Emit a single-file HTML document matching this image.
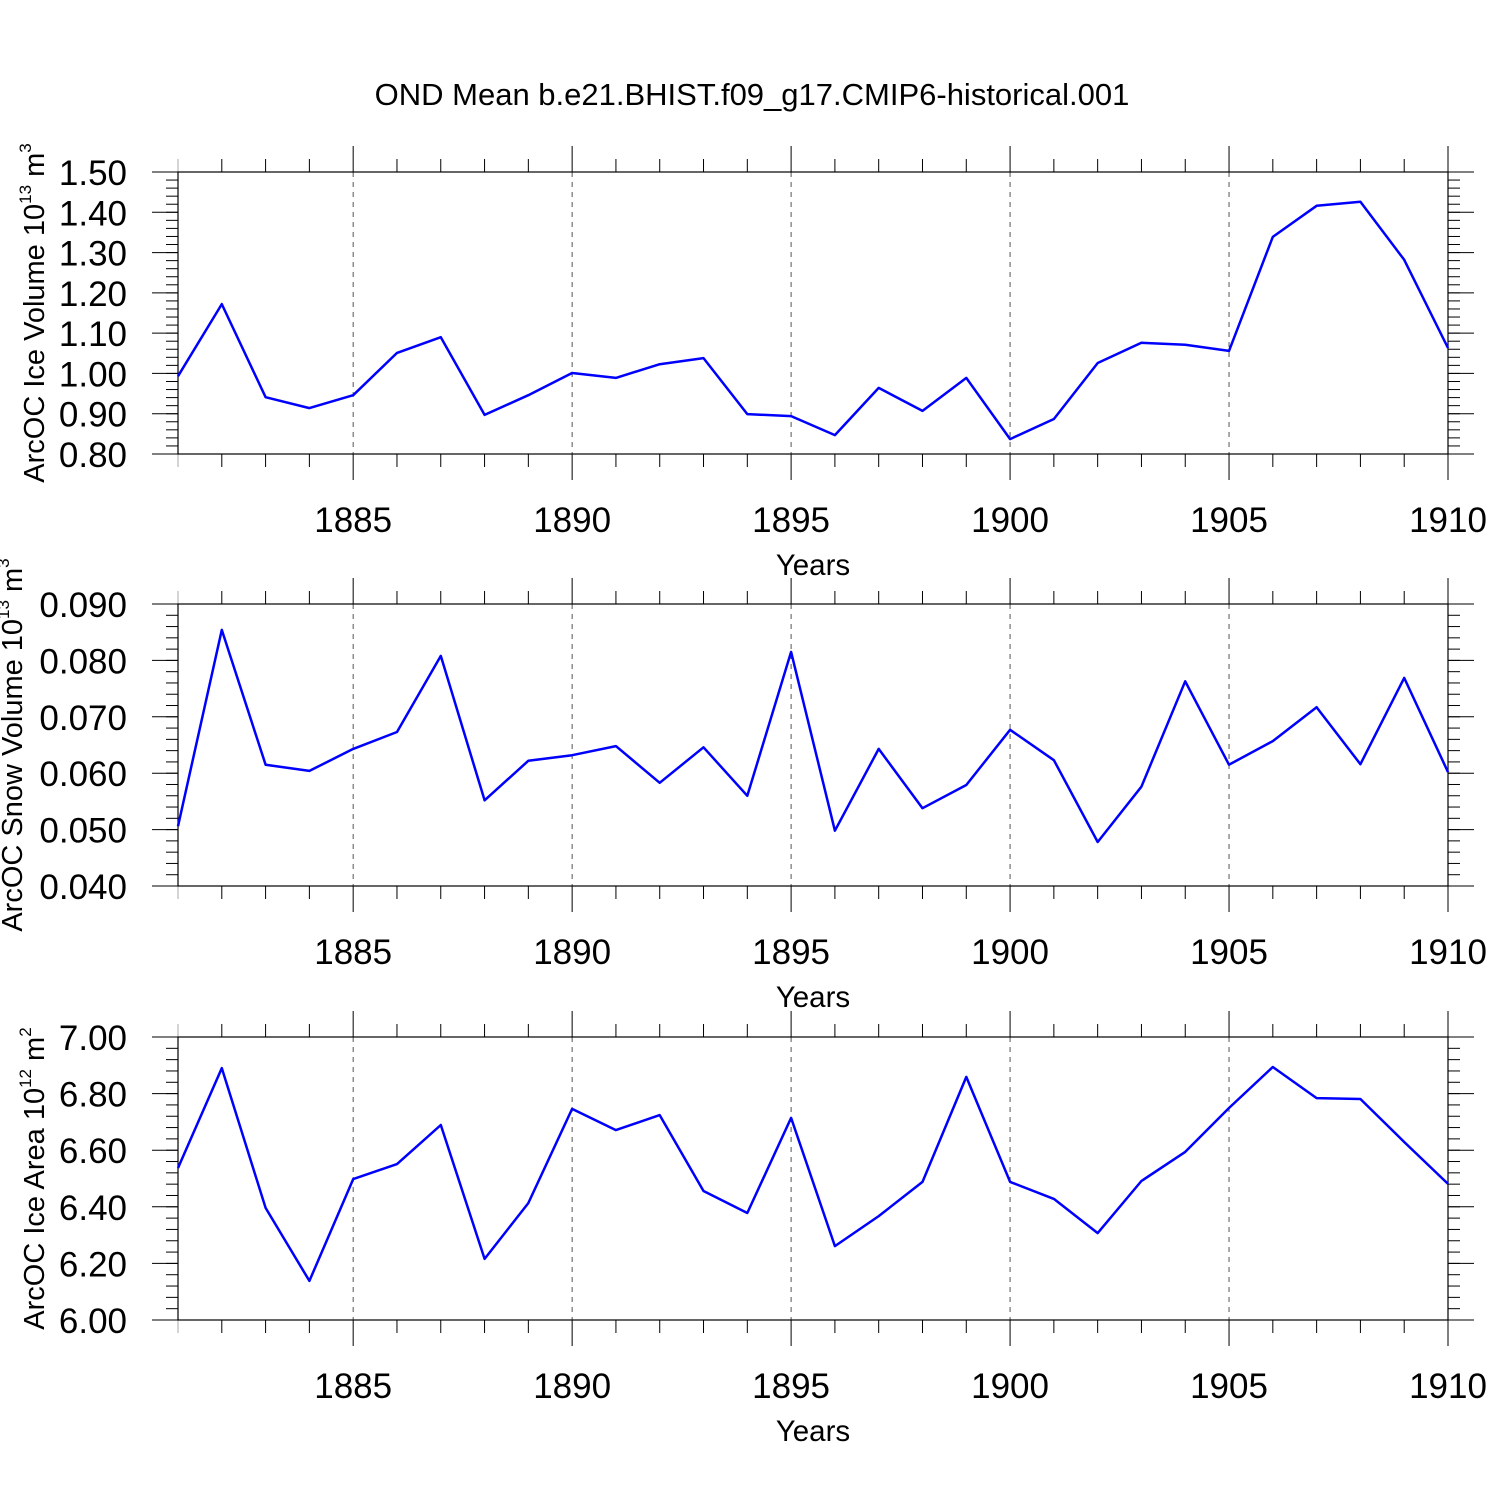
<!DOCTYPE html>
<html><head><meta charset="utf-8"><style>
html,body{margin:0;padding:0;background:#fff;}
svg{display:block;font-family:"Liberation Sans",Arial,sans-serif;}
</style></head><body>
<svg id="chart" width="1500" height="1500" viewBox="0 0 1500 1500" xmlns="http://www.w3.org/2000/svg">
<rect width="1500" height="1500" fill="#fff"/>
<text x="752" y="105" font-size="31" text-anchor="middle">OND Mean b.e21.BHIST.f09_g17.CMIP6-historical.001</text>
</svg>
<script>
const years = [1881,1882,1883,1884,1885,1886,1887,1888,1889,1890,1891,1892,1893,1894,1895,1896,1897,1898,1899,1900,1901,1902,1903,1904,1905,1906,1907,1908,1909,1910];
const iceVolume = [0.993,1.172,0.941,0.914,0.946,1.051,1.090,0.897,0.946,1.001,0.989,1.023,1.038,0.899,0.894,0.847,0.964,0.907,0.989,0.837,0.887,1.026,1.076,1.071,1.056,1.339,1.416,1.426,1.282,1.063];
const snowVolume = [0.0506,0.0854,0.0615,0.0604,0.0643,0.0673,0.0808,0.0552,0.0622,0.0632,0.0648,0.0583,0.0646,0.0560,0.0815,0.0498,0.0643,0.0538,0.0579,0.0677,0.0623,0.0478,0.0576,0.0763,0.0615,0.0657,0.0717,0.0616,0.0769,0.0602];
const iceArea = [6.537,6.890,6.396,6.138,6.498,6.551,6.689,6.216,6.413,6.746,6.671,6.724,6.456,6.378,6.714,6.261,6.367,6.488,6.859,6.488,6.428,6.307,6.491,6.594,6.749,6.894,6.784,6.781,6.629,6.481];
const xTickLabels = [1885,1890,1895,1900,1905,1910];
const iceVolTicks = [0.80,0.90,1.00,1.10,1.20,1.30,1.40,1.50];
const snowTicks = [0.040,0.050,0.060,0.070,0.080,0.090];
const areaTicks = [6.00,6.20,6.40,6.60,6.80,7.00];

const NS = "http://www.w3.org/2000/svg";
const svg = document.getElementById('chart');
function mk(tag, attrs, parent){
  const e = document.createElementNS(NS, tag);
  for (const k in attrs) e.setAttribute(k, attrs[k]);
  (parent||svg).appendChild(e);
  return e;
}
const X0 = 178, X1 = 1448;
const xScale = y => X0 + (y - 1881) / (1910 - 1881) * (X1 - X0);

function panel(name, top, bottom, ymin, ymax, ticks, minorStep, decimals, data, title, sup, unit, titleX){
  const g = mk('g', {});
  
  
  const yScale = v => bottom - (v - ymin) / (ymax - ymin) * (bottom - top);
  xTickLabels.forEach(yr => {
    if (yr === 1910) return;
    const gl = mk('line', {x1: xScale(yr), x2: xScale(yr), y1: top, y2: bottom, stroke: '#555', 'stroke-width': 1, 'stroke-dasharray': '5,5'}, g);
    
    
  });
  years.forEach(yr => {
    const major = (yr % 5 === 0);
    const len = major ? 26 : 13;
    const col = yr === 1881 ? '#aaa' : '#000';
    mk('line', {x1: xScale(yr), x2: xScale(yr), y1: top, y2: top - len, stroke: col, 'stroke-width': 1}, g);
    mk('line', {x1: xScale(yr), x2: xScale(yr), y1: bottom, y2: bottom + len, stroke: col, 'stroke-width': 1}, g);
  });
  xTickLabels.forEach(yr => {
    const t = mk('text', {x: xScale(yr), y: bottom + 78, 'font-size': 35, 'text-anchor': 'middle'}, g);
    t.textContent = yr;
    
    
  });
  const nMinor = Math.round((ymax - ymin) / minorStep);
  for (let i = 0; i <= nMinor; i++) {
    const v = ymin + i * minorStep, yy = yScale(v);
    mk('line', {x1: X0, x2: X0 - 12, y1: yy, y2: yy, stroke: '#000', 'stroke-width': 1}, g);
    mk('line', {x1: X1, x2: X1 + 12, y1: yy, y2: yy, stroke: '#000', 'stroke-width': 1}, g);
  }
  ticks.forEach(v => {
    const yy = yScale(v);
    mk('line', {x1: X0, x2: X0 - 26, y1: yy, y2: yy, stroke: '#000', 'stroke-width': 1}, g);
    mk('line', {x1: X1, x2: X1 + 26, y1: yy, y2: yy, stroke: '#000', 'stroke-width': 1}, g);
    const t = mk('text', {x: 127, y: yy + 13, 'font-size': 35, 'text-anchor': 'end'}, g);
    t.textContent = v.toFixed(decimals);
    
    
  });
  mk('rect', {x: X0, y: top, width: X1 - X0, height: bottom - top, fill: 'none', stroke: '#000', 'stroke-width': 1.2}, g);
  const pts = data.map((v, i) => xScale(years[i]).toFixed(1) + ',' + yScale(v).toFixed(1)).join(' ');
  const pl = mk('polyline', {points: pts, fill: 'none', stroke: '#0000ff', 'stroke-width': 2.5, 'stroke-linejoin': 'round'}, g);
  
  
  const xt = mk('text', {x: 813, y: bottom + 121, 'font-size': 29.5, 'text-anchor': 'middle'}, g);
  xt.textContent = 'Years';
  
  
  const cy = (top + bottom) / 2;
  const yt = mk('text', {x: 0, y: 0, 'font-size': 29, 'text-anchor': 'middle', transform: `translate(${titleX},${cy}) rotate(-90)`}, g);
  
  
  const s1 = mk('tspan', {}, yt); s1.textContent = title + ' 10';
  const s2 = mk('tspan', {dy: -13, 'font-size': 17}, yt); s2.textContent = sup;
  const s3 = mk('tspan', {dy: 13}, yt); s3.textContent = ' m';
  const s4 = mk('tspan', {dy: -13, 'font-size': 17}, yt); s4.textContent = unit;
}
panel('ice-volume', 172, 454, 0.80, 1.50, iceVolTicks, 0.02, 2, iceVolume, 'ArcOC Ice Volume', '13', '3', 44);
panel('snow-volume', 604, 886, 0.040, 0.090, snowTicks, 0.002, 3, snowVolume, 'ArcOC Snow Volume', '13', '3', 22);
panel('ice-area', 1037, 1320, 6.00, 7.00, areaTicks, 0.04, 2, iceArea, 'ArcOC Ice Area', '12', '2', 44);
</script>
</body></html>
